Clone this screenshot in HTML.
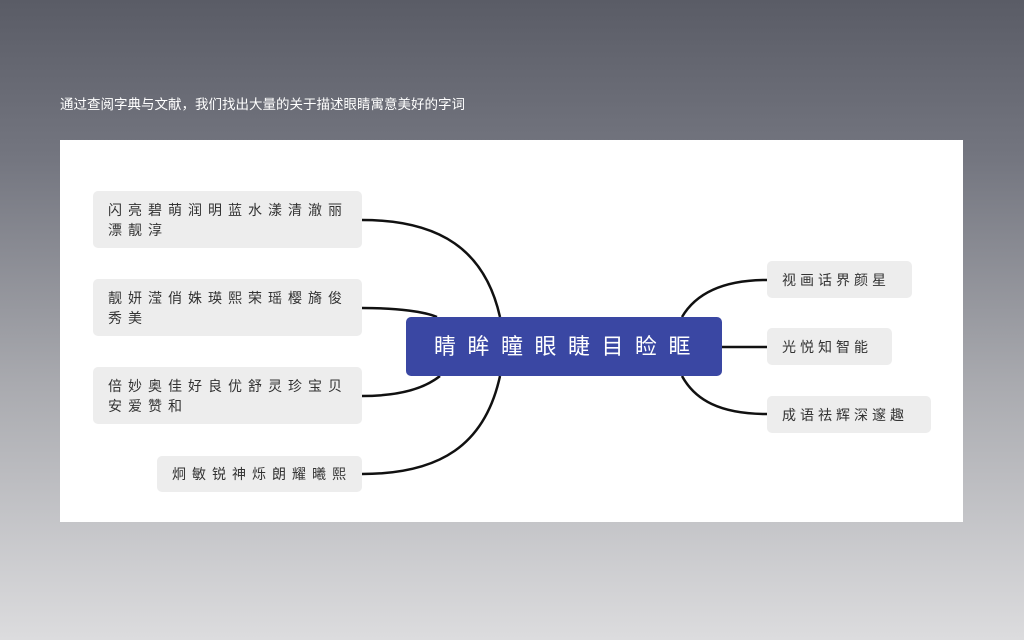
<!DOCTYPE html>
<html><head><meta charset="utf-8"><style>
body{margin:0;width:1024px;height:640px;overflow:hidden;background:linear-gradient(#5a5c66 0%,#747680 25%,#a9aaaf 60%,#dcdcde 100%);font-family:"Liberation Sans","Noto Sans CJK SC",sans-serif;position:relative}
.t{position:absolute;left:60px;top:96px;color:#fff;font-size:13.5px;line-height:18px}
.p{position:absolute;left:60px;top:140px;width:903px;height:382px;background:#fff}
.b{position:absolute;background:#ededed;border-radius:5px;color:#333;font-size:14px;letter-spacing:6px;line-height:20px;box-sizing:border-box;padding:9px 0 0 15px}
.r{letter-spacing:4px}
.c{position:absolute;left:406px;top:317px;width:316px;height:59px;background:#3a47a3;border-radius:5px;color:#fff;font-size:22px;letter-spacing:11.5px;line-height:59px;text-align:center;padding-left:8px;box-sizing:border-box}
svg{position:absolute;left:0;top:0}
</style></head><body>
<div class="t">通过查阅字典与文献，我们找出大量的关于描述眼睛寓意美好的字词</div>
<div class="p"></div>
<svg width="1024" height="640"><g fill="none" stroke="#111" stroke-width="2.5">
<path d="M362 220 C440 220 485 250 500 317"/>
<path d="M362 308 C400 308 425 312 437 317"/>
<path d="M362 396 C400 396 425 388 440 376"/>
<path d="M362 474 C440 474 485 445 500 376"/>
<path d="M767 280 C720 280 695 295 682 317"/>
<path d="M722 347 L767 347"/>
<path d="M767 414 C720 414 695 400 682 376"/>
</g></svg>
<div class="b" style="left:93px;top:191px;width:269px;height:57px">闪亮碧萌润明蓝水漾清澈丽漂靓淳</div>
<div class="b" style="left:93px;top:279px;width:269px;height:57px">靓妍滢俏姝瑛熙荣瑶樱旖俊秀美</div>
<div class="b" style="left:93px;top:367px;width:269px;height:57px">倍妙奥佳好良优舒灵珍宝贝安爱赞和</div>
<div class="b" style="left:157px;top:456px;width:205px;height:36px;padding-top:8px">炯敏锐神烁朗耀曦熙</div>
<div class="c">睛眸瞳眼睫目睑眶</div>
<div class="b r" style="left:767px;top:261px;width:145px;height:37px;padding-top:9px">视画话界颜星</div>
<div class="b r" style="left:767px;top:328px;width:125px;height:37px;padding-top:9px">光悦知智能</div>
<div class="b r" style="left:767px;top:396px;width:164px;height:37px;padding-top:9px">成语祛辉深邃趣</div>
</body></html>
